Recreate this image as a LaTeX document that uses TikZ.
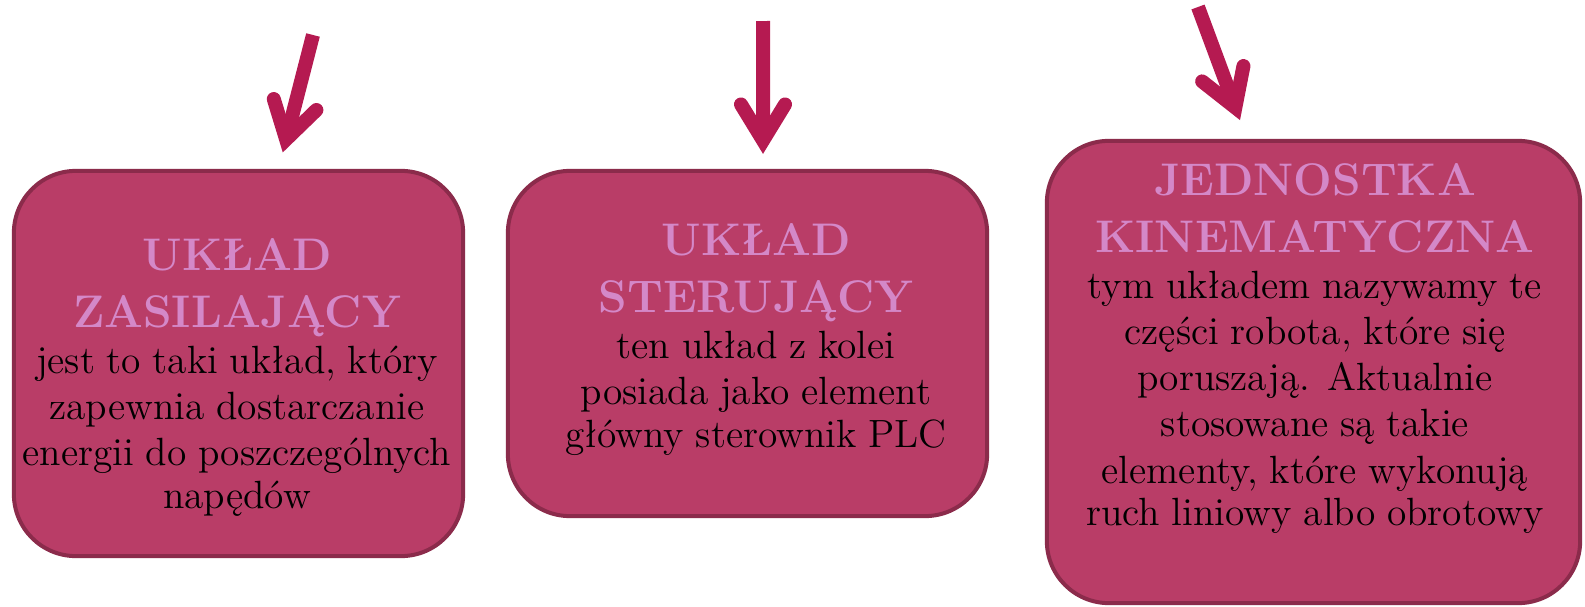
\documentclass[tikz,border=0pt]{standalone}
\usetikzlibrary{arrows.meta}
\definecolor{boxfill}{HTML}{B93D67}
\definecolor{boxline}{HTML}{8B2B4B}
\definecolor{ttlpink}{HTML}{D488C8}
\definecolor{arrowred}{HTML}{B51A51}
\newcommand{\ttlfont}{\fontsize{13}{16.2}\selectfont\bfseries\color{ttlpink}}
\newcommand{\bdyfont}{\fontsize{11.2}{13.1}\selectfont\mdseries\color{black}}
\begin{document}
\begin{tikzpicture}[x=0.01cm,y=-0.01cm,
    box/.style={draw=boxline,fill=boxfill,line width=0.04cm,rounded corners=0.62cm},
    txt/.style={anchor=north,inner sep=0pt,align=center},
    bigarrow/.style={arrowred,line width=0.14cm,
        -{Straight Barb[length=0.36cm,width=0.44cm,line cap=round,line join=miter]}}]
    \useasboundingbox (0,0) rectangle (1585,606);

    % the three units
    \node [box,minimum width=4.49cm,minimum height=3.85cm] (zasil) at (238.5,363.5) {};
    \node [box,minimum width=4.79cm,minimum height=3.45cm] (sterow) at (747.5,343.5) {};
    \node [box,minimum width=5.33cm,minimum height=4.62cm] (kinem) at (1313.5,372) {};

    \node [txt,text width=4.5cm] (zasiltxt) at (237,238)
        {\ttlfont UKŁAD\\ZASILAJĄCY\par
         \bdyfont jest to taki układ, który\\zapewnia dostarczanie\\energii do poszczególnych\\napędów};
    \node [txt,text width=4.7cm] (sterowtxt) at (756,223)
        {\ttlfont UKŁAD\\STERUJĄCY\par
         \bdyfont ten układ z kolei\\posiada jako element\\główny sterownik PLC};
    \node [txt,text width=5.3cm] (kinemtxt) at (1315,163)
        {\ttlfont JEDNOSTKA\\KINEMATYCZNA\par
         \bdyfont tym układem nazywamy te\\części robota, które się\\poruszają. Aktualnie\\stosowane są takie\\elementy, które wykonują\\ruch liniowy albo obrotowy};

    % arrows coming from above
    \coordinate (zasilin) at (313,35);
    \coordinate (sterowin) at (763,21);
    \coordinate (kineminn) at (1198,7);
    \draw [bigarrow,shorten >=0.17cm] (zasilin) -- ([xshift=0.40cm]zasil.north);
    \draw [bigarrow,shorten >=0.15cm] (sterowin) -- ([xshift=0.155cm]sterow.north);
    \draw [bigarrow,shorten >=0.20cm] (kineminn) -- ([xshift=-0.665cm]kinem.north);
\end{tikzpicture}
\end{document}
